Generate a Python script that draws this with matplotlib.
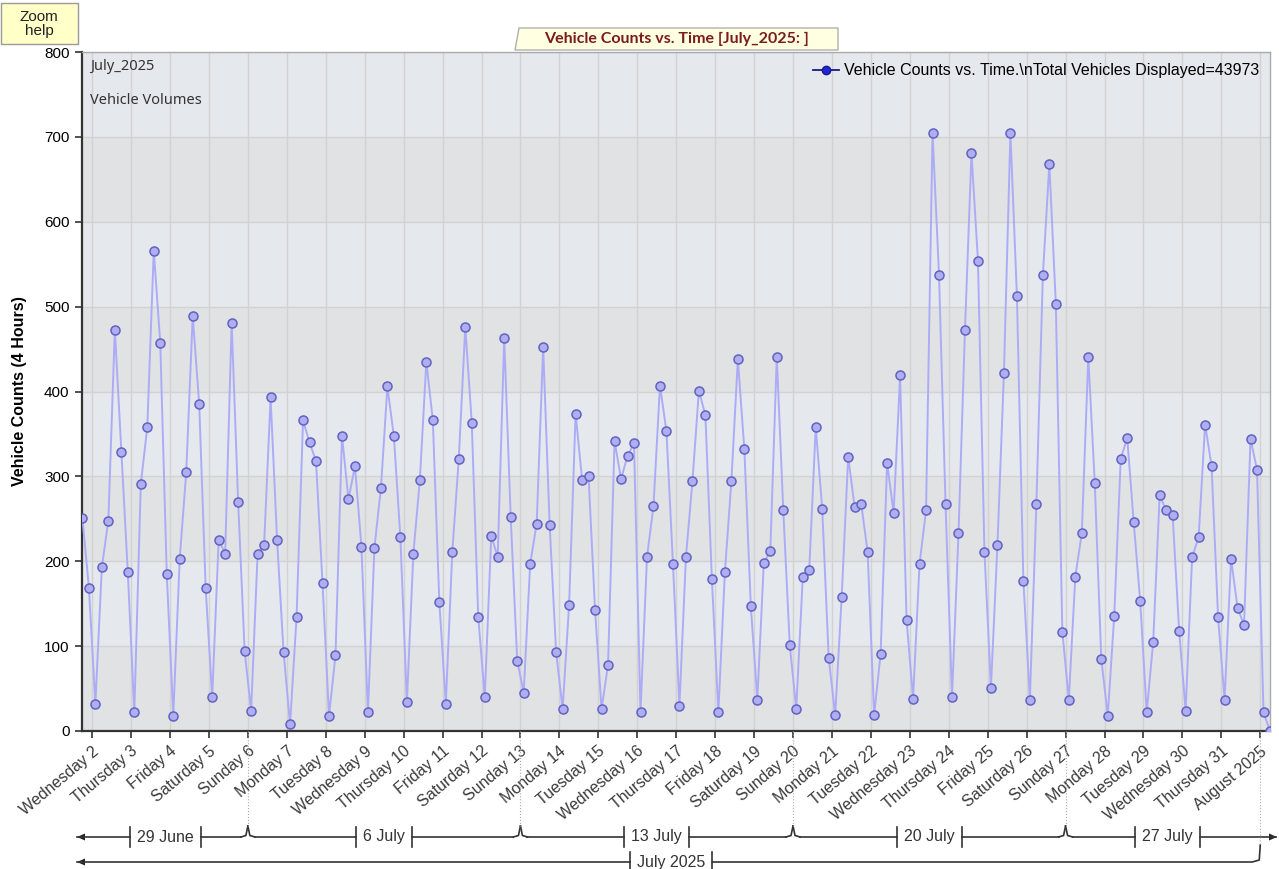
import matplotlib
matplotlib.use("Agg")
import matplotlib.pyplot as plt
import matplotlib.dates as mdates
from matplotlib.lines import Line2D
from matplotlib.patches import Rectangle, Polygon
import pandas as pd

# 4-hour vehicle counts, July 2025
counts = [
    251, 169, 32, 193, 248, 473, 329, 187, 22, 291, 358, 566, 457, 185, 18, 203, 305, 489,
    385, 168, 40, 225, 209, 481, 270, 94, 24, 209, 219, 393, 225, 93, 8, 134, 366, 340,
    318, 174, 18, 89, 348, 273, 312, 217, 22, 216, 286, 406, 347, 228, 34, 209, 296, 435,
    366, 152, 32, 211, 321, 476, 363, 134, 40, 230, 205, 463, 252, 83, 45, 197, 244, 452,
    243, 93, 26, 149, 374, 296, 300, 142, 26, 78, 342, 297, 324, 339, 22, 205, 265, 407,
    353, 197, 30, 205, 294, 401, 372, 179, 22, 187, 294, 438, 332, 147, 37, 198, 212,
    441, 260, 101, 26, 181, 190, 358, 262, 86, 19, 158, 323, 264, 268, 211, 19, 91, 316,
    257, 419, 131, 38, 197, 260, 705, 537, 268, 40, 233, 473, 681, 554, 211, 51, 219, 422, 705,
    513, 177, 37, 267, 537, 668, 503, 117, 37, 182, 233, 441, 292, 85, 18, 136, 321, 345,
    246, 153, 22, 105, 278, 260, 254, 118, 24, 205, 228, 361, 312, 134, 37, 203, 145, 125,
    344, 308, 22, 0,
]
start_time = "2025-07-01 18:00"

day_labels = [
    "Wednesday 2", "Thursday 3", "Friday 4", "Saturday 5", "Sunday 6", "Monday 7", "Tuesday 8",
    "Wednesday 9", "Thursday 10", "Friday 11", "Saturday 12", "Sunday 13", "Monday 14",
    "Tuesday 15", "Wednesday 16", "Thursday 17", "Friday 18", "Saturday 19", "Sunday 20",
    "Monday 21", "Tuesday 22", "Wednesday 23", "Thursday 24", "Friday 25", "Saturday 26",
    "Sunday 27", "Monday 28", "Tuesday 29", "Wednesday 30", "Thursday 31", "August 2025",
]
week_labels = ["29 June", "6 July", "13 July", "20 July", "27 July"]
week_breaks = ["2025-07-06", "2025-07-13", "2025-07-20", "2025-07-27"]
month_label = "July 2025"
month_end = "2025-08-01"

W, H = 1279, 869
times = pd.date_range(start_time, periods=len(counts), freq="4h")
x = mdates.date2num(times.to_pydatetime())
ticks = mdates.date2num(pd.date_range("2025-07-02", periods=len(day_labels), freq="D").to_pydatetime())

fig = plt.figure(figsize=(W / 100, H / 100), dpi=100)
ax = fig.add_axes([82 / W, 1 - 731 / H, (1270 - 82) / W, 679 / H])

# alternating horizontal bands
for i, y0 in enumerate(range(0, 800, 100)):
    ax.axhspan(y0, y0 + 100, color="#e1e2e4" if i % 2 == 0 else "#e5e9ed", lw=0, zorder=0)

ax.plot(x, counts, color="#acacf6", lw=1.4, marker="o", ms=6.5,
        mfc="#aeaef0", mec="#6262c2", mew=1.1, zorder=3)

ax.set_xlim(x[0] - 0.01, x[-1])
ax.set_ylim(0, 800)
ax.set_yticks(range(0, 801, 100))
ax.set_xticks(ticks)
ax.set_xticklabels(day_labels, rotation=40, ha="right", rotation_mode="anchor",
                   fontsize=11.5, color="#3a3a3a", family="Liberation Sans")
for lab in ax.get_yticklabels():
    lab.set_family("Liberation Sans")
    lab.set_fontsize(11)
ax.tick_params(axis="both", length=5, width=1.2, color="#333333", pad=4)
ax.grid(True, color="#d2d2d2", lw=1, zorder=1)
ax.set_axisbelow(True)
for s in ["left", "bottom"]:
    ax.spines[s].set_color("#333333")
    ax.spines[s].set_linewidth(1.6)
for s in ["top", "right"]:
    ax.spines[s].set_color("#aaaaaa")
    ax.spines[s].set_linewidth(1.0)

ax.set_ylabel("Vehicle Counts (4 Hours)", fontsize=11.5, fontweight="bold",
              family="Liberation Sans", labelpad=12)

ax.text(0.007, 0.978, "July_2025", transform=ax.transAxes, va="center",
        fontsize=10.5, color="#333333", family="Noto Sans")
ax.text(0.007, 0.928, "Vehicle Volumes", transform=ax.transAxes, va="center",
        fontsize=10.5, color="#333333", family="Noto Sans")

handle = Line2D([], [], color="#1a1a80", lw=1.3, marker="o", ms=6, mfc="#2424e0", mec="#1a1a80")
ax.legend([handle], ["Vehicle Counts vs. Time.\\nTotal Vehicles Displayed=43973"],
          loc="upper right", frameon=False, handlelength=1.6, handletextpad=0.3,
          borderaxespad=0.3, prop={"family": "Liberation Sans", "size": 11.5})

# title tab and zoom help box
fig.patches.append(Polygon([(515 / W, 1 - 50 / H), (519 / W, 1 - 28 / H),
                            (838 / W, 1 - 28 / H), (838 / W, 1 - 50 / H)],
                           closed=True, transform=fig.transFigure,
                           fc="#ffffe1", ec="#b0b0b0", lw=1, zorder=0))
fig.text(677 / W, 1 - 39 / H, "Vehicle Counts vs. Time [July_2025: ]", ha="center", va="center",
         color="#7a1c1c", fontweight="bold", fontsize=11.5, family="Lato")
fig.patches.append(Rectangle((1 / W, 1 - 44 / H), 77 / W, 41 / H, transform=fig.transFigure,
                             fc="#ffffc8", ec="#999999", lw=1))
fig.text(39 / W, 1 - 24 / H, "Zoom\nhelp", ha="center", va="center", fontsize=11,
         family="Liberation Sans", color="#222222", linespacing=1.0)

# --- bracket rows below the axis (drawn in image pixels) ---
fig.canvas.draw()
renderer = fig.canvas.get_renderer()


def px(xd):
    return ax.transData.transform((xd, 0))[0]


def seg(xs, ys, **kw):
    kw.setdefault("color", "#333333")
    kw.setdefault("lw", 1.2)
    fig.add_artist(Line2D([v / W for v in xs], [1 - v / H for v in ys],
                          transform=fig.transFigure, **kw))


def label_bars(xc, y, text):
    t = fig.text(xc / W, 1 - y / H, text, ha="center", va="center", fontsize=11.5,
                 family="Liberation Sans", color="#333333")
    bb = t.get_window_extent(renderer)
    l, r = bb.x0 - 7, bb.x1 + 7
    seg([l, l], [y - 10, y + 10])
    seg([r, r], [y - 10, y + 10])
    return l, r


def cusp(b, y):
    seg([b - 7, b - 2, b], [y, y - 1.5, y - 11])
    seg([b, b + 2, b + 7], [y - 11, y - 1.5, y])
    seg([b, b], [731, y - 11], color="#aaaaaa", lw=0.8, ls=":")


def arrow(xtip, y, direction):
    d = -1 if direction == "left" else 1
    fig.patches.append(Polygon([(xtip / W, 1 - y / H), ((xtip - d * 8) / W, 1 - (y - 3.5) / H),
                                ((xtip - d * 8) / W, 1 - (y + 3.5) / H)],
                               closed=True, transform=fig.transFigure, fc="#222222", ec="none"))


y1 = 837
x_left, x_right = px(x[0]), px(x[-1])
edges = [x_left] + [px(mdates.date2num(pd.Timestamp(b).to_pydatetime())) for b in week_breaks] + [x_right]
for i, lab in enumerate(week_labels):
    l_edge, r_edge = edges[i], edges[i + 1]
    bl, br = label_bars((l_edge + r_edge) / 2, y1, lab)
    start = 77 if i == 0 else l_edge + 7
    end = 1276 if i == len(week_labels) - 1 else r_edge - 7
    seg([start, bl], [y1, y1])
    seg([br, end], [y1, y1])
for b in edges[1:-1]:
    cusp(b, y1)
arrow(77, y1, "left")
arrow(1277, y1, "right")

y2 = 862
aug = px(mdates.date2num(pd.Timestamp(month_end).to_pydatetime()))
bl, br = label_bars((x_left + aug) / 2, y2, month_label)
seg([77, bl], [y2, y2])
seg([br, aug - 8, aug - 1, aug], [y2, y2, y2 - 2, y2 - 17])
seg([aug, aug], [731, y2 - 17], color="#aaaaaa", lw=0.8, ls=":")
arrow(77, y2, "left")

fig.savefig("out.png", dpi=100, facecolor="white")
